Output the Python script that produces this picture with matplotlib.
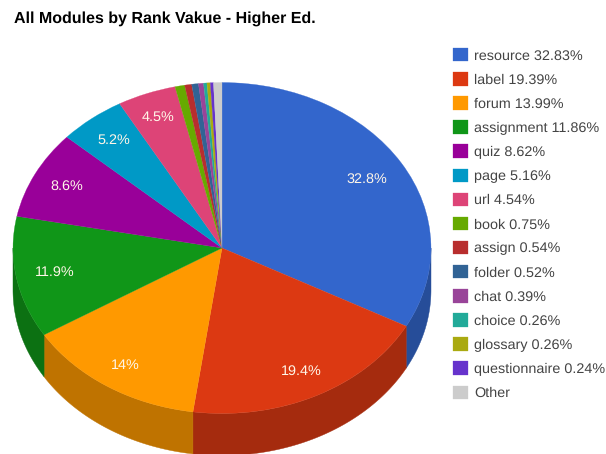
import numpy as np
import matplotlib
matplotlib.use('Agg')
import matplotlib.pyplot as plt
from matplotlib.colors import to_rgb

plt.rcParams['font.family'] = ['Liberation Sans', 'DejaVu Sans']
plt.rcParams['text.hinting'] = 'no_hinting'

title = 'All Modules by Rank Vakue - Higher Ed.'
names = ['resource', 'label', 'forum', 'assignment', 'quiz', 'page', 'url', 'book',
         'assign', 'folder', 'chat', 'choice', 'glossary', 'questionnaire', 'Other']
values = [32.83, 19.39, 13.99, 11.86, 8.62, 5.16, 4.54, 0.75,
          0.54, 0.52, 0.39, 0.26, 0.26, 0.24, 0.65]
colors = ['#3366cc', '#dc3912', '#ff9900', '#109618', '#990099', '#0099c6', '#dd4477', '#66aa00',
          '#b82e2e', '#316395', '#994499', '#22aa99', '#aaaa11', '#6633cc', '#cccccc']

# pie geometry in pixels
W, H = 606, 454
cx, cy = 222, 248
rx, ry = 209, 165.5
depth = 42 / ry
label_dist = [0.805, 0.835, 0.845, 0.815, 0.83, 0.83, 0.845]


def pct_label(p):
    if p < 4:
        return ''
    s = '%.1f' % p
    if s.endswith('.0'):
        s = s[:-2]
    return s + '%'


fig = plt.figure(figsize=(W / 100, H / 100), dpi=100)
ax = fig.add_axes([0, 0, 1, 1])

wedges, texts, autotexts = ax.pie(values, colors=colors, startangle=90, counterclock=False,
                                  autopct=pct_label, pctdistance=0.8, radius=1,
                                  wedgeprops={'zorder': 2})
for w, c in zip(wedges, colors):
    w.set_edgecolor(c)
    w.set_linewidth(0.2)
for t in autotexts:
    t.set_color('#fff6e8')
    t.set_fontsize(10.4)
for w, t, r in zip(wedges, autotexts, label_dist):
    mid = np.radians((w.theta1 + w.theta2) / 2)
    t.set_position((r * np.cos(mid), r * np.sin(mid)))

ax.set_aspect('auto')
ax.set_xlim(-cx / rx, (W - cx) / rx)
ax.set_ylim((cy - H) / ry, cy / ry)
ax.axis('off')

# side wall, only the lower half of the rim shows
total = sum(values)
start = 90.0
for v, c in zip(values, colors):
    end = start - v / total * 360
    a = min(start, 0)
    b = max(end, -180)
    if a > b:
        th = np.radians(np.linspace(a, b, 80))
        xs = np.cos(th)
        ys = np.sin(th)
        px = np.concatenate([xs, xs[::-1]])
        py = np.concatenate([ys, ys[::-1] - depth])
        ax.fill(px, py, color=tuple(k * 0.75 for k in to_rgb(c)), lw=0.3, zorder=1)
    start = end

fig.text(14 / W, 1 - 18.5 / H, title, fontsize=11.5, fontweight='bold', color='black',
         ha='left', va='center')

labels = [n if n == 'Other' else '%s %.2f%%' % (n, v) for n, v in zip(names, values)]
leg = ax.legend(wedges, labels, loc='upper left', bbox_to_anchor=(453 / W, 1 - 48 / H),
                bbox_transform=fig.transFigure, frameon=False, fontsize=10.4,
                handlelength=1.06, handleheight=1.06, handletextpad=0.42,
                labelspacing=0.66, borderpad=0, borderaxespad=0, labelcolor='#444444')

fig.savefig('out.png', dpi=100)
